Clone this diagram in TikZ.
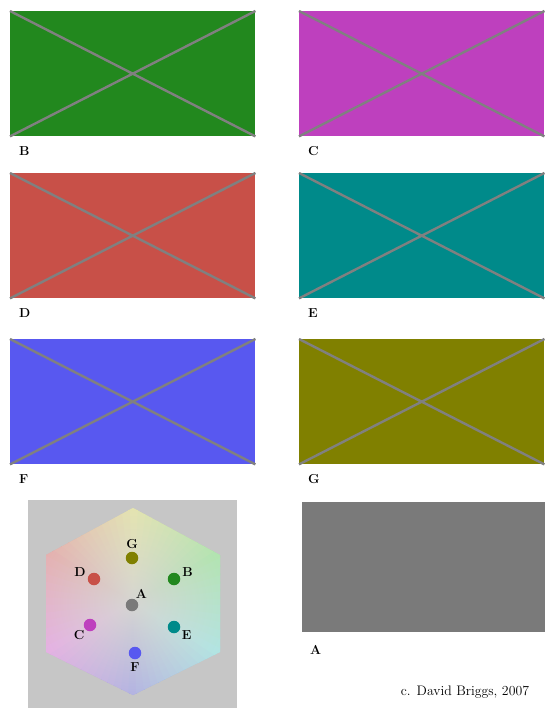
\documentclass[tikz,border=0pt]{standalone}
\usepackage{xcolor}
\usetikzlibrary{positioning,fadings}
\definecolor{colA}{RGB}{122,122,122}
\definecolor{colB}{RGB}{34,136,30}
\definecolor{colC}{RGB}{190,64,190}
\definecolor{colD}{RGB}{200,80,72}
\definecolor{colE}{RGB}{0,138,138}
\definecolor{colF}{RGB}{88,88,240}
\definecolor{colG}{RGB}{128,128,0}
\definecolor{crossgray}{RGB}{128,128,128}
\definecolor{panelgray}{RGB}{198,198,198}
\definecolor{hexmid}{RGB}{214,214,210}
\tikzfading[name=hexfade, inner color=transparent!0, outer color=transparent!100]

\begin{document}
\begin{tikzpicture}[x=1pt,y=-1pt,swatch/.style={anchor=north west, inner sep=0pt, minimum width=245pt, minimum height=125pt},cross/.style={crossgray, line width=2.4pt},letter/.style={font=\fontsize{13}{15}\selectfont\bfseries, inner sep=0pt},dot/.style={circle, inner sep=0pt, minimum size=12.5pt},credit/.style={font=\fontsize{13.8}{16}\selectfont}]
\useasboundingbox (0,0) rectangle (545,708);
\node[swatch, fill=colB] (B) at (10,11) {}; \draw[cross] (B.north west) -- (B.south east) (B.south west) -- (B.north east); \node[letter, below right=10pt and 9pt of B.south west] (lB) {B};
\node[swatch, fill=colC] (C) at (299,11) {}; \draw[cross] (C.north west) -- (C.south east) (C.south west) -- (C.north east); \node[letter, below right=10pt and 9pt of C.south west] (lC) {C};
\node[swatch, fill=colD] (D) at (10,173) {}; \draw[cross] (D.north west) -- (D.south east) (D.south west) -- (D.north east); \node[letter, below right=10pt and 9pt of D.south west] (lD) {D};
\node[swatch, fill=colE] (E) at (299,173) {}; \draw[cross] (E.north west) -- (E.south east) (E.south west) -- (E.north east); \node[letter, below right=10pt and 9pt of E.south west] (lE) {E};
\node[swatch, fill=colF] (F) at (10,339) {}; \draw[cross] (F.north west) -- (F.south east) (F.south west) -- (F.north east); \node[letter, below right=10pt and 9pt of F.south west] (lF) {F};
\node[swatch, fill=colG] (G) at (299,339) {}; \draw[cross] (G.north west) -- (G.south east) (G.south west) -- (G.north east); \node[letter, below right=10pt and 9pt of G.south west] (lG) {G};
\node[swatch, fill=colA, minimum width=243pt, minimum height=130pt] (A) at (302,502) {}; \node[letter, below right=13pt and 8pt of A.south west] (lA) {A};
\fill[panelgray] (28,500) rectangle (237,708);
\begin{scope}[shift={(133,602)}, y=1pt]
\coordinate (O) at (0,0);
\clip (0,94) -- (87,47) -- (87,-50) -- (0,-93) -- (-87,-50) -- (-87,47) -- cycle;
\foreach \a in {0,5,...,355} {\pgfmathsetmacro\h{mod(510-\a,360)} \definecolor{hx}{Hsb}{\h,0.4,0.95} \fill[hx] (O) -- (\a-3:130) -- (\a+3:130) -- cycle;}
\fill[hexmid, path fading=hexfade] (O) circle (185);
\end{scope}
\node[dot, fill=colG, label={[letter, label distance=3pt]above:G}] (dG) at (132,558) {};
\node[dot, fill=colD, label={[letter, label distance=2pt]165:D}] (dD) at (94,579) {};
\node[dot, fill=colB, label={[letter, label distance=2pt]15:B}] (dB) at (174,579) {};
\node[dot, fill=colA, label={[letter, label distance=1pt]60:A}] (dA) at (132,605) {};
\node[dot, fill=colC, label={[letter, label distance=1pt]225:C}] (dC) at (90,625) {};
\node[dot, fill=colE, label={[letter, label distance=2pt]-25:E}] (dE) at (174,627) {};
\node[dot, fill=colF, label={[letter, label distance=3pt]below:F}] (dF) at (135,653) {};
\node[credit] (credit) at (465,692) {c. David Briggs, 2007};
\end{tikzpicture}
\end{document}
